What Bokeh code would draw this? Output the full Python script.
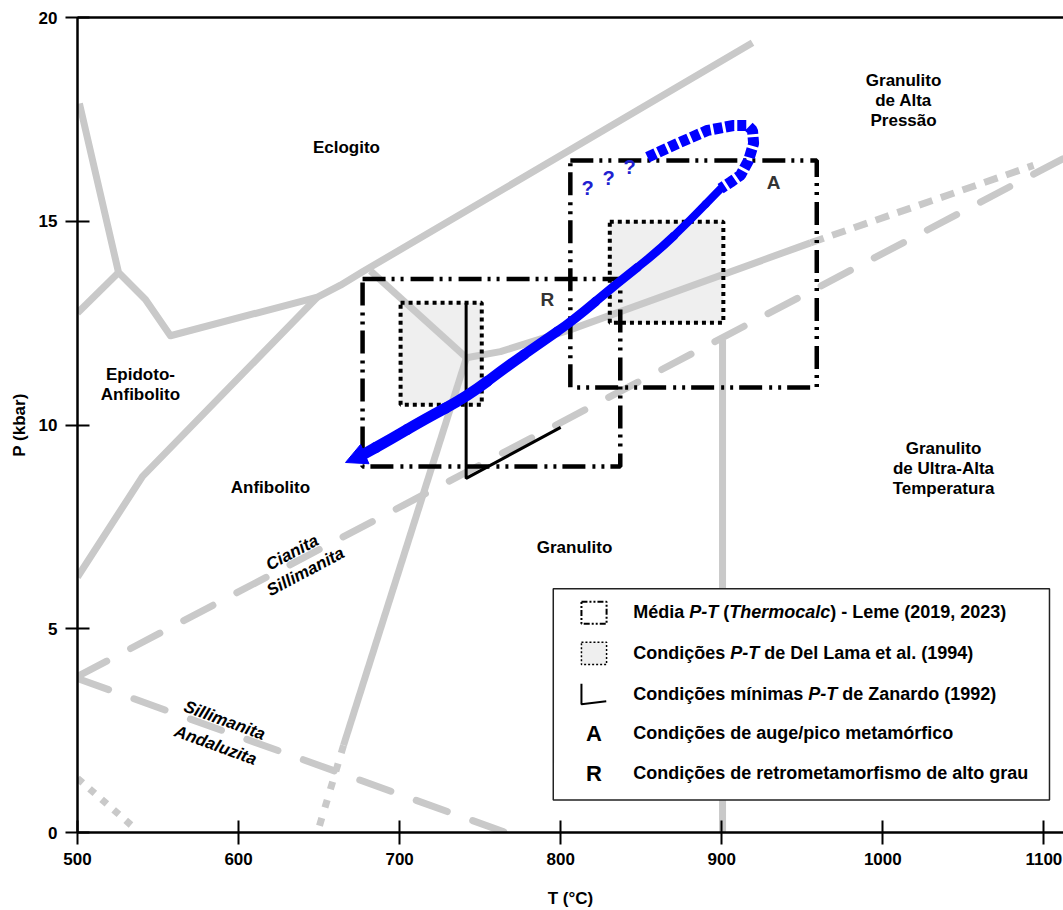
from bokeh.plotting import figure
from bokeh.models import Range1d, LinearAxis, FixedTicker, Arrow, NormalHead
from bokeh.core.properties import value
from bokeh.embed import file_html
from bokeh.resources import INLINE

# ---------------- data (T in °C, P in kbar) ----------------
x_ticks = [500, 600, 700, 800, 900, 1000, 1100]
y_ticks = [0, 5, 10, 15, 20]

# facies / reaction boundaries
eclogite_T = [501.2, 525.5, 542.2, 557.7, 649.0, 663.3, 677.0, 919.1]
eclogite_P = [17.89, 13.74, 13.08, 12.19, 13.14, 13.43, 13.76, 19.38]
epiamph_T = [500.0, 525.5]
epiamph_P = [12.75, 13.74]
amph_T = [500.0, 540.4, 649.0]
amph_P = [6.27, 8.74, 13.14]
eclgran_T = [681.9, 741.5]
eclgran_P = [13.78, 11.65]
steep_T = [741.5, 665.2]
steep_P = [11.65, 2.14]
steep_dot_T = [665.2, 649.0]
steep_dot_P = [2.14, 0.0]
hpg_T = [741.5, 762.6, 806.1, 955.1]
hpg_P = [11.65, 11.80, 12.34, 14.47]
hpg_dash_T = [955.1, 1093.6]
hpg_dash_P = [14.47, 16.37]
uht_T = [900.5, 900.5]
uht_P = [12.09, 0.0]
kysil_T = [500.0, 1112.2]
kysil_P = [3.83, 16.54]
siland_T = [500.0, 765.8]
siland_P = [3.78, 0.0]
lowleft_T = [500.0, 534.2]
lowleft_P = [1.33, 0.15]

# P-T boxes
thermo_Tmin = [677.0, 806.0]
thermo_Tmax = [837.0, 959.0]
thermo_Pmin = [8.98, 10.92]
thermo_Pmax = [13.58, 16.49]
dellama_Tmin = [700.6, 830.5]
dellama_Tmax = [751.0, 901.0]
dellama_Pmin = [10.50, 12.51]
dellama_Pmax = [13.00, 14.99]
zanardo_T = [741.3, 741.3, 800.0]
zanardo_P = [13.00, 8.69, 9.94]

# P-T path (dashed uncertain peak loop, then solid retrograde path)
loop_T = [853.9, 872.6, 891.2, 907.3, 916.0, 919.1, 919.8, 916.6, 911.7, 905.5, 899.3]
loop_P = [16.57, 16.91, 17.23, 17.35, 17.35, 17.23, 16.91, 16.49, 16.13, 15.96, 15.80]
path_T = [899.3, 880.6, 860.0, 835.1, 808.2, 787.5, 766.8, 742.0, 715.0, 694.4, 675.7]
path_P = [15.80, 15.03, 14.25, 13.48, 12.58, 12.01, 11.44, 10.70, 10.13, 9.65, 9.24]
tip_T = 666.4
tip_P = 9.08

# ---------------- figure ----------------
FONT = "Liberation Sans"
GRAY = "#c9c9c9"
BLUE = "#0000ff"

p = figure(width=1063, height=910, x_range=Range1d(500, 1112.2), y_range=Range1d(0, 20),
           output_backend="svg", toolbar_location=None,
           min_border_left=77, min_border_right=0, min_border_top=17, min_border_bottom=76,
           x_axis_label="T (°C)", y_axis_label="P (kbar)")
p.grid.visible = False
p.outline_line_color = None
p.background_fill_color = "white"
p.border_fill_color = "white"

p.xaxis.ticker = FixedTicker(ticks=x_ticks)
p.yaxis.ticker = FixedTicker(ticks=y_ticks)
for ax in (p.xaxis[0], p.yaxis[0]):
    ax.axis_line_width = 2.5
    ax.axis_line_color = "black"
    ax.major_tick_line_width = 2
    ax.major_tick_line_color = "black"
    ax.major_tick_in = 12
    ax.major_tick_out = 12
    ax.minor_tick_line_color = None
    ax.major_label_text_font = FONT
    ax.major_label_text_font_style = "bold"
    ax.major_label_text_font_size = "17px"
    ax.major_label_text_color = "black"
    ax.major_label_standoff = 8
    ax.axis_label_text_font = FONT
    ax.axis_label_text_font_style = "bold"
    ax.axis_label_text_font_size = "17px"
    ax.axis_label_text_color = "black"
p.xaxis[0].axis_label_standoff = 21
p.yaxis[0].axis_label_standoff = 7

top_ax = LinearAxis(ticker=FixedTicker(ticks=[]), axis_line_width=2.5, axis_line_color="black",
                    major_tick_line_color=None, minor_tick_line_color=None,
                    major_label_text_font_size="0px", major_label_standoff=0)
p.add_layout(top_ax, "above")

# box fills (under lines)
p.quad(left=dellama_Tmin, right=dellama_Tmax, bottom=dellama_Pmin, top=dellama_Pmax,
       fill_color="#efefef", line_color=None)

# gray boundaries
solid = dict(line_color=GRAY, line_width=7, line_join="round")
for xs, ys in [(eclogite_T, eclogite_P), (epiamph_T, epiamph_P), (amph_T, amph_P),
               (eclgran_T, eclgran_P), (steep_T, steep_P), (hpg_T, hpg_P), (uht_T, uht_P)]:
    p.line(xs, ys, **solid)
p.line(hpg_dash_T, hpg_dash_P, line_color=GRAY, line_width=7, line_dash="14 9")
p.line(steep_dot_T, steep_dot_P, line_color=GRAY, line_width=7, line_dash="8 11")
p.line(lowleft_T, lowleft_P, line_color=GRAY, line_width=7, line_dash="7 9")
p.line(kysil_T, kysil_P, line_color=GRAY, line_width=7, line_dash="33 27", line_cap="round")
p.line(siland_T, siland_P, line_color=GRAY, line_width=7, line_dash="33 27", line_cap="round")

# box outlines
p.quad(left=thermo_Tmin, right=thermo_Tmax, bottom=thermo_Pmin, top=thermo_Pmax,
       fill_alpha=0, line_color="black", line_width=4.5, line_dash="23 6 3 6 3 7")
p.quad(left=dellama_Tmin, right=dellama_Tmax, bottom=dellama_Pmin, top=dellama_Pmax,
       fill_alpha=0, line_color="black", line_width=4, line_dash="4 4")
p.line(zanardo_T, zanardo_P, line_color="black", line_width=3)

# P-T path: dashed loop
p.line(loop_T, loop_P, line_color=BLUE, line_width=11, line_dash="9 3")

# solid path drawn as a smooth chain of quadratic curves (read points as control points)
n = len(path_T)
mid_T = [(path_T[i] + path_T[i + 1]) / 2 for i in range(n - 1)]
mid_P = [(path_P[i] + path_P[i + 1]) / 2 for i in range(n - 1)]
x0 = [path_T[0]] + mid_T[:-1]
y0 = [path_P[0]] + mid_P[:-1]
x1 = mid_T[:1] + mid_T[1:]
y1 = mid_P[:1] + mid_P[1:]
# first piece: straight start->mid0 (control at its middle); then mid(i-1)->mid(i) via point i
q_x0, q_y0, q_x1, q_y1, q_cx, q_cy = [], [], [], [], [], []
q_x0.append(path_T[0]); q_y0.append(path_P[0]); q_x1.append(mid_T[0]); q_y1.append(mid_P[0])
q_cx.append((path_T[0] + mid_T[0]) / 2); q_cy.append((path_P[0] + mid_P[0]) / 2)
for i in range(1, n - 1):
    q_x0.append(mid_T[i - 1]); q_y0.append(mid_P[i - 1])
    q_x1.append(mid_T[i]); q_y1.append(mid_P[i])
    q_cx.append(path_T[i]); q_cy.append(path_P[i])
q_x0.append(mid_T[-1]); q_y0.append(mid_P[-1]); q_x1.append(path_T[-1]); q_y1.append(path_P[-1])
q_cx.append((mid_T[-1] + path_T[-1]) / 2); q_cy.append((mid_P[-1] + path_P[-1]) / 2)
wid = [8, 8, 8.5, 9, 9.5, 10, 10.5, 11, 11, 11, 11, 11][:len(q_x0)]
p.quadratic(x0=q_x0, y0=q_y0, x1=q_x1, y1=q_y1, cx=q_cx, cy=q_cy,
            line_color=BLUE, line_width=wid, line_cap="round")
p.add_layout(Arrow(end=NormalHead(size=21, fill_color=BLUE, line_color=BLUE, line_width=1),
                   x_start=path_T[-1], y_start=path_P[-1], x_end=tip_T, y_end=tip_P,
                   line_alpha=0, line_width=1))

txt = dict(text_font=value(FONT), text_align="center", text_baseline="middle")

# question marks
p.text(x=[816.7, 829.7, 842.8], y=[15.81, 16.05, 16.32], text=["?", "?", "?"],
       text_color="#2020d0", text_font_size="20px", text_font_style="bold", **txt)

# box letters
p.text(x=[791.8, 932.2], y=[13.07, 15.96], text=["R", "A"], text_color="#333333",
       text_font_size="19px", text_font_style="bold", **txt)

# region labels
reg_x = [667.0, 1012.9, 539.1, 619.8, 808.6, 1037.7]
reg_y = [16.81, 17.96, 10.99, 8.47, 7.00, 8.93]
reg_t = ["Eclogito", "Granulito\nde Alta\nPressão", "Epidoto-\nAnfibolito", "Anfibolito",
         "Granulito", "Granulito\nde Ultra-Alta\nTemperatura"]
p.text(x=reg_x, y=reg_y, text=reg_t, text_color="black", text_font_size="17px",
       text_font_style="bold", text_line_height=1.05, **txt)

# rotated reaction labels
p.text(x=[633.3, 641.6], y=[6.87, 6.40], text=["Cianita", "Sillimanita"], angle=0.489,
       text_color="black", text_font_size="17px", text_font_style="bold italic", **txt)
p.text(x=[591.3, 585.7], y=[2.75, 2.14], text=["Sillimanita", "Andaluzita"], angle=-0.349,
       text_color="black", text_font_size="17px", text_font_style="bold italic", **txt)

# ---------------- legend ----------------
p.quad(left=[795.4], right=[1103.5], bottom=[0.80], top=[5.98], fill_color="white",
       line_color="#222222", line_width=1.5)
p.quad(left=[812.9], right=[828.5], bottom=[5.12], top=[5.66], fill_color="white",
       line_color="black", line_width=2, line_dash="6 2 2 2 2 2")
p.quad(left=[812.9], right=[828.5], bottom=[4.12], top=[4.67], fill_color="#efefef",
       line_color="black", line_width=1.5, line_dash="2 2")
p.line([812.9, 812.9, 828.3], [3.65, 3.15, 3.22], line_color="black", line_width=2)
p.text(x=[820.6, 820.6], y=[2.43, 1.45], text=["A", "R"], text_color="black",
       text_font_size="22px", text_font_style="bold", **txt)

AW = {' ': 278, '(': 333, ')': 333, ',': 278, '-': 333, '.': 278, '/': 278,
      'A': 722, 'C': 722, 'D': 722, 'L': 611, 'M': 833, 'P': 667, 'T': 611, 'Z': 611,
      'a': 556, 'b': 611, 'c': 556, 'd': 611, 'e': 556, 'f': 333, 'g': 611, 'h': 611,
      'i': 278, 'l': 278, 'm': 889, 'n': 611, 'o': 611, 'p': 611, 'r': 389, 's': 556,
      't': 333, 'u': 611, 'é': 556, 'ç': 556, 'õ': 611, 'í': 278, 'ó': 611}
LEG_SIZE = 18


def tw(s):
    return sum(AW.get(c, 556) for c in s) / 1000.0 * LEG_SIZE


legend_rows = [
    [("Média ", False), ("P-T", True), (" (", False), ("Thermocalc", True),
     (") - Leme (2019, 2023)", False)],
    [("Condições ", False), ("P-T", True), (" de Del Lama et al. (1994)", False)],
    [("Condições mínimas ", False), ("P-T", True), (" de Zanardo (1992)", False)],
    [("Condições de auge/pico metamórfico", False)],
    [("Condições de retrometamorfismo de alto grau", False)],
]
row_y = [5.40, 4.40, 3.41, 2.43, 1.45]
text_x = 845.0
seg = {False: dict(x=[], y=[], text=[], x_offset=[]), True: dict(x=[], y=[], text=[], x_offset=[])}
for row, yy in zip(legend_rows, row_y):
    off = 0.0
    for s, it in row:
        lead = len(s) - len(s.lstrip(" "))
        seg[it]["x"].append(text_x)
        seg[it]["y"].append(yy)
        seg[it]["text"].append(s.strip(" "))
        seg[it]["x_offset"].append(off + tw(" " * lead))
        off += tw(s)
for it, style in ((False, "bold"), (True, "bold italic")):
    d = seg[it]
    p.text(x=d["x"], y=d["y"], text=d["text"], x_offset=d["x_offset"], text_color="black",
           text_font=value(FONT), text_font_size="18px", text_font_style=style,
           text_align="left", text_baseline="middle")

open("out.html", "w").write(file_html(p, INLINE))
